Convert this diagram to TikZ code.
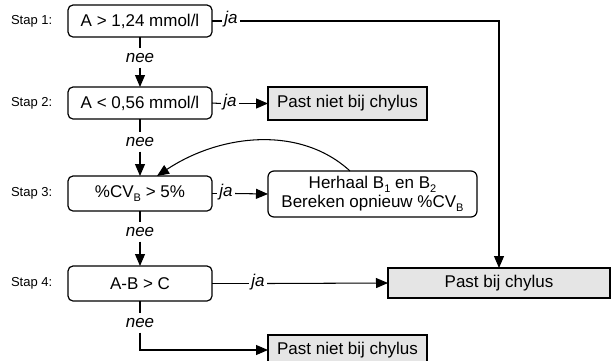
\documentclass[tikz,border=0pt]{standalone}
\usepackage{fontspec}
\setmainfont{Liberation Sans}
\usetikzlibrary{arrows.meta,calc}

% lowered subscript in the text font
\newcommand\lowsub[1]{\raisebox{-0.4ex}{\fontsize{11}{12}\selectfont #1}}

\begin{document}
\begin{tikzpicture}[x=1pt,y=-1pt,
  font=\fontsize{17}{19}\selectfont,
  every node/.style={inner sep=0pt, outer sep=0pt},
  cond/.style={draw, line width=1.2pt, rounded corners=5pt, minimum width=144pt},
  result/.style={draw, line width=1.2pt, fill=gray!20},
  stlabel/.style={anchor=west, font=\fontsize{13}{15}\selectfont},
  lbl/.style={font=\fontsize{17}{19}\selectfont\itshape, inner xsep=2.5pt, inner ysep=5pt},
  arr/.style={-{Triangle[length=12pt,width=10pt]}},
  conn/.style={line width=1.05pt}
]
\useasboundingbox (0,0) rectangle (613,360);

% decision boxes
\node[cond, minimum height=32pt] (b1) at (140,21)    {A > 1,24 mmol/l};
\node[cond, minimum height=32pt] (b2) at (140,103)   {A < 0,56 mmol/l};
\node[cond, minimum height=35pt] (b3) at (140,193.5) {\%CV\lowsub{B} > 5\%};
\node[cond, minimum height=35pt] (b4) at (140,283.5) {A-B > C};

% step labels
\node[stlabel] (s1) at (11,21)    {Stap 1:};
\node[stlabel] (s2) at (11,103)   {Stap 2:};
\node[stlabel] (s3) at (11,193.5) {Stap 3:};
\node[stlabel] (s4) at (11,283.5) {Stap 4:};

% outcome boxes
\node[result, minimum width=159pt, minimum height=33pt] (pn1) at (347.5,103.5) {Past niet bij chylus};
\node[result, minimum width=222pt, minimum height=30pt] (pb)  at (499,283)     {Past bij chylus};
\node[result, minimum width=159pt, minimum height=30pt] (pn2) at (347.5,350)   {Past niet bij chylus};

% repeat box
\node[draw, line width=1.2pt, rounded corners=6pt, minimum width=209pt, minimum height=46pt,
      align=center, font=\fontsize{17}{19}\selectfont] (rep) at (372.5,194)
  {Herhaal B\lowsub{1} en B\lowsub{2}\\Bereken opnieuw \%CV\lowsub{B}};

% "nee" labels
\node[lbl] (n1) at (140,58)  {nee};
\node[lbl] (n2) at (140,142) {nee};
\node[lbl] (n3) at (140,232) {nee};
\node[lbl] (n4) at (140,323) {nee};

% "ja" labels
\node[lbl, anchor=mid] (j1) at (231,21)    {ja};
\node[lbl, anchor=mid] (j2) at (230,103.5) {ja};
\node[lbl, anchor=mid] (j3) at (226,193.5) {ja};
\node[lbl, anchor=mid] (j4) at (258,283.5) {ja};

% vertical "nee" connectors
\draw[conn] (b1.south) -- (n1.north);
\draw[conn,arr] (n1.south) -- (b2.north);
\draw[conn] (b2.south) -- (n2.north);
\draw[conn,arr] (n2.south) -- (b3.north);
\draw[conn] (b3.south) -- (n3.north);
\draw[conn,arr] (n3.south) -- (b4.north);
\draw[conn] (b4.south) -- (n4.north);
\draw[conn,arr] (n4.south) |- (pn2.west);

% "ja" connectors
\draw[conn] (b1.east) -- (j1.mid west);
\draw[conn,arr] (j1.mid east) -| (pb.north);
\draw[conn] (b2.east) -- (j2.mid west);
\draw[conn,arr] (j2.mid east) -- (pn1.west);
\draw[conn] (b3.east) -- (j3.mid west);
\draw[conn,arr] (j3.mid east) -- (rep.west);
\draw[conn] (b4.east) -- (j4.mid west);
\draw[conn,arr] (j4.mid east) -- (pb.west);

% loop back from the repeat box to step 3
\coordinate (rs) at ([xshift=-22.5pt]rep.north);
\coordinate (re) at ([xshift=17pt]b3.north);
\draw[conn,arr] (rs) .. controls ($(rs)+(-50,-46)$) and ($(re)+(63,-42)$) .. (re);
\end{tikzpicture}
\end{document}
